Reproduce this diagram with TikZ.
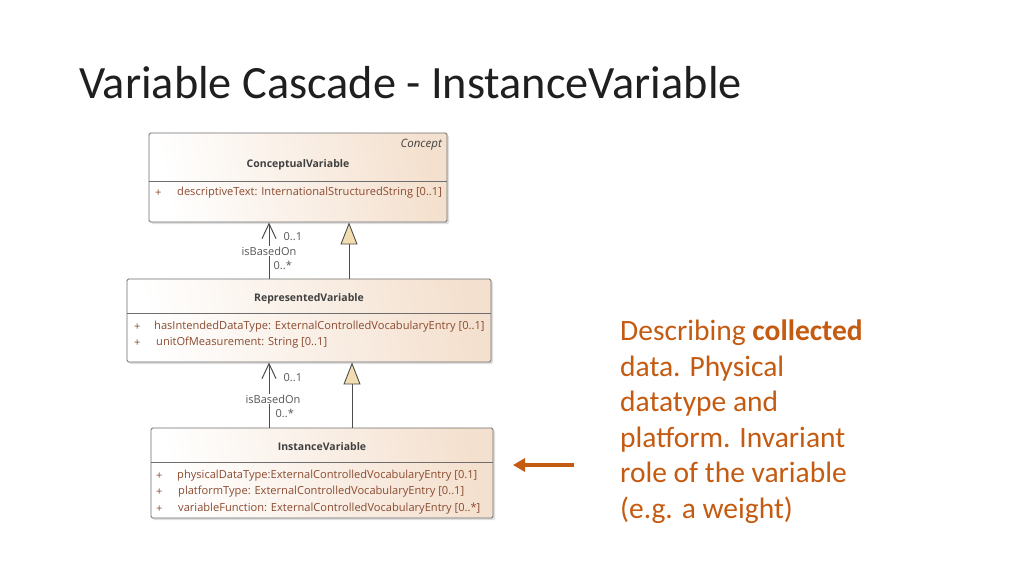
\documentclass[tikz,border=0pt]{standalone}
\usepackage{fontspec}
\setmainfont{Carlito}
\newfontfamily\umlfont{Open Sans}
\usetikzlibrary{arrows.meta,shadows}
\definecolor{accentor}{HTML}{C55A11}
\definecolor{boxline}{HTML}{6E6E6E}
\definecolor{boxtan}{HTML}{F4E0CE}
\definecolor{attrcol}{HTML}{8A4A30}
\definecolor{gencol}{HTML}{F2DDB0}
\definecolor{lblcol}{HTML}{555555}
\tikzset{
  umlbox/.style={draw=boxline, line width=0.9pt, rounded corners=1.5pt,
    left color=white, right color=boxtan, shading angle=100,
    drop shadow={opacity=0.25, shadow xshift=2pt, shadow yshift=-2pt},
    inner sep=0pt},
  sepline/.style={draw=boxline, line width=0.7pt},
  umltitle/.style={font=\umlfont\fontsize{10.5}{12}\selectfont\bfseries, text=black!75, inner sep=0pt},
  stereo/.style={font=\umlfont\fontsize{11.5}{13}\selectfont\itshape, text=black!75, inner sep=0pt},
  attr/.style={font=\umlfont\fontsize{11.1}{12}\selectfont, text=attrcol, inner sep=0pt, anchor=west},
  lbl/.style={font=\umlfont\fontsize{11}{13}\selectfont, text=lblcol, inner sep=0.5pt},
  assocline/.style={draw=black!70, line width=1pt, -{Straight Barb[length=15pt,width=14pt,line width=1pt]}},
  genline/.style={draw=black!70, line width=1pt, -{Triangle[length=22pt,width=17pt,fill=gencol,line width=0.9pt]}},
  callout/.style={draw=accentor, line width=4pt, -{Triangle[length=12pt,width=13pt]}},
}
\begin{document}
\begin{tikzpicture}[x=1pt,y=-1pt]
\useasboundingbox[fill=white] (0,0) rectangle (1024,576);

% title
\node[anchor=base west, inner sep=0pt, font=\fontsize{46.3}{55}\selectfont, text=black!88] (title) at (79,98) {Variable Cascade - InstanceVariable};

% ConceptualVariable
\node[umlbox, minimum width=298pt, minimum height=89pt] (cv) at (298,177.5) {};
\node[stereo, anchor=east] (cvst) at (442,145) {Concept};
\node[umltitle] (cvt) at (298,165) {ConceptualVariable};
\draw[sepline] (cv.west |- 0,181) -- (cv.east |- 0,181);
\node[attr] (cvp1) at (155,193) {+};
\node[attr] (cva1) at (177,193) {descriptiveText: InternationalStructuredString [0..1]};

% RepresentedVariable
\node[umlbox, minimum width=364pt, minimum height=83pt] (rv) at (309,320.5) {};
\node[umltitle] (rvt) at (309,299) {RepresentedVariable};
\draw[sepline] (rv.west |- 0,313) -- (rv.east |- 0,313);
\node[attr] (rvp1) at (134,327) {+};
\node[attr] (rva1) at (154,327) {hasIntendedDataType: ExternalControlledVocabularyEntry [0..1]};
\node[attr] (rvp2) at (134,343) {+};
\node[attr] (rva2) at (156,343) {unitOfMeasurement: String [0..1]};

% InstanceVariable
\node[umlbox, minimum width=342pt, minimum height=90pt] (iv) at (322,473) {};
\node[umltitle] (ivt) at (322,447) {InstanceVariable};
\draw[sepline] (iv.west |- 0,462) -- (iv.east |- 0,462);
\node[attr] (ivp1) at (156,476) {+};
\node[attr] (iva1) at (177,476) {physicalDataType:ExternalControlledVocabularyEntry [0.1]};
\node[attr] (ivp2) at (156,492) {+};
\node[attr] (iva2) at (178,492) {platformType: ExternalControlledVocabularyEntry [0..1]};
\node[attr] (ivp3) at (156,509) {+};
\node[attr] (iva3) at (178,509) {variableFunction: ExternalControlledVocabularyEntry [0..*]};

% connectors RV -> CV
\coordinate (a1) at (269,0);
\coordinate (g1) at (349,0);
\draw[assocline] (rv.north -| a1) -- (cv.south -| a1);
\draw[genline] (rv.north -| g1) -- (cv.south -| g1);
\node[lbl, fill=white] (l1b) at (269,251) {isBasedOn};
\node[lbl, anchor=west] (l1a) at (283,237) {0..1};
\node[lbl, anchor=west] (l1c) at (273,265) {0..*};

% connectors IV -> RV
\coordinate (a2) at (269,0);
\coordinate (g2) at (352,0);
\draw[assocline] (iv.north -| a2) -- (rv.south -| a2);
\draw[genline] (iv.north -| g2) -- (rv.south -| g2);
\node[lbl, fill=white] (l2b) at (273,399) {isBasedOn};
\node[lbl, anchor=west] (l2a) at (283,378) {0..1};
\node[lbl, anchor=west] (l2c) at (275,413) {0..*};

% callout arrow
\coordinate (arrs) at (574,465);
\coordinate (arre) at (513,465);
\draw[callout] (arrs) -- (arre);

% description text
\node[anchor=north west, inner sep=0pt, text=accentor, align=left,
  font=\fontsize{29.5}{35.6}\selectfont] (desc) at (620,319.5)
  {Describing \textbf{collected}\\data. Physical\\datatype and\\platform. Invariant\\role of the variable\\(e.g. a weight)};
\end{tikzpicture}
\end{document}
